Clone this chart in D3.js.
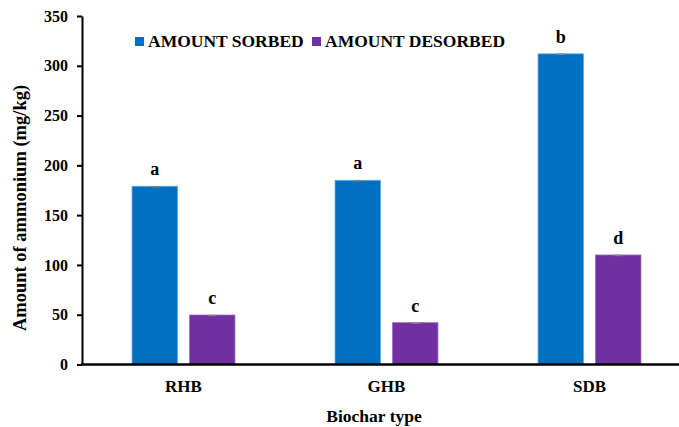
<!DOCTYPE html>
<html>
<head>
<meta charset="utf-8">
<script src="https://cdn.jsdelivr.net/npm/d3@7"></script>
<style>
  body { margin: 0; background: #fff; }
  text { font-family: "Liberation Serif", "Times New Roman", serif; font-weight: bold; }
</style>
</head>
<body>
<script>
const categories = ["RHB", "GHB", "SDB"];
const seriesNames = ["AMOUNT SORBED", "AMOUNT DESORBED"];
const sorbed = [179, 185, 312];
const desorbed = [49.7, 42, 110];
const sorbedLetters = ["a", "a", "b"];
const desorbedLetters = ["c", "c", "d"];
const yTicks = [0, 50, 100, 150, 200, 250, 300, 350];

const colors = ["#0070C0", "#7030A0"];
const edges = ["#5aa9e6", "#9b6cc4"];

const width = 679, height = 427;
const plotLeft = 82, plotRight = 691, plotTop = 16, plotBottom = 364.5;

const svg = d3.select("body").append("svg")
  .attr("width", width)
  .attr("height", height);

const rows = categories.map((c, i) => ({
  cat: c,
  vals: [
    { s: 0, v: sorbed[i], l: sorbedLetters[i] },
    { s: 1, v: desorbed[i], l: desorbedLetters[i] }
  ]
}));

const x0 = d3.scaleBand().domain(categories).range([plotLeft, plotRight])
  .paddingInner(0.493).paddingOuter(0.2465);
const x1 = d3.scaleBand().domain([0, 1]).range([0, x0.bandwidth()])
  .paddingInner(0.21);
const y = d3.scaleLinear().domain([0, 350]).range([plotBottom, plotTop]);

// bars
const g = svg.selectAll(".grp").data(rows).enter().append("g")
  .attr("transform", d => `translate(${x0(d.cat)},0)`);

g.selectAll("rect").data(d => d.vals).enter().append("rect")
  .attr("x", d => x1(d.s))
  .attr("y", d => y(d.v))
  .attr("width", x1.bandwidth())
  .attr("height", d => y(0) - y(d.v))
  .attr("fill", d => colors[d.s])
  .attr("stroke", d => edges[d.s])
  .attr("stroke-width", 0.8);

// tiny error caps
g.selectAll("line.err").data(d => d.vals).enter().append("line")
  .attr("class", "err")
  .attr("x1", d => x1(d.s) + x1.bandwidth() / 2 - 4)
  .attr("x2", d => x1(d.s) + x1.bandwidth() / 2 + 4)
  .attr("y1", d => y(d.v) + 0.5)
  .attr("y2", d => y(d.v) + 0.5)
  .attr("stroke", "#808080")
  .attr("stroke-width", 1.5);

// letters
g.selectAll("text.let").data(d => d.vals).enter().append("text")
  .attr("class", "let")
  .attr("x", d => x1(d.s) + x1.bandwidth() / 2)
  .attr("y", d => y(d.v) - 11)
  .attr("text-anchor", "middle")
  .attr("font-size", "18px")
  .attr("fill", "#000")
  .text(d => d.l);

// y axis
const yAxis = svg.append("g")
  .attr("transform", `translate(${plotLeft},0)`)
  .call(d3.axisLeft(y).tickValues(yTicks).tickSize(5).tickPadding(9).tickSizeOuter(0));
yAxis.select(".domain").attr("stroke", "#000").attr("stroke-width", 2);
yAxis.selectAll(".tick line").attr("stroke", "#000").attr("stroke-width", 2);
yAxis.selectAll(".tick text")
  .attr("font-size", "16px")
  .attr("font-family", "Liberation Serif, serif")
  .attr("font-weight", "bold")
  .attr("fill", "#000");

// x axis
const xAxis = svg.append("g")
  .attr("transform", `translate(0,${plotBottom})`)
  .call(d3.axisBottom(x0).tickSize(0).tickPadding(15).tickSizeOuter(0));
xAxis.select(".domain").attr("stroke", "#000").attr("stroke-width", 2.5)
  .attr("d", `M${plotLeft - 1},0H${width}`);
xAxis.selectAll(".tick text")
  .attr("font-size", "17px")
  .attr("font-family", "Liberation Serif, serif")
  .attr("font-weight", "bold")
  .attr("fill", "#000");

// axis titles
svg.append("text")
  .attr("transform", "translate(26,208) rotate(-90)")
  .attr("text-anchor", "middle")
  .attr("font-size", "18.5px")
  .text("Amount of ammonium (mg/kg)");

svg.append("text")
  .attr("x", 374).attr("y", 422)
  .attr("text-anchor", "middle")
  .attr("font-size", "17.5px")
  .text("Biochar type");

// legend
const legendX = [135, 312];
const lg = svg.selectAll(".leg").data(seriesNames).enter().append("g")
  .attr("transform", (d, i) => `translate(${legendX[i]},37)`);
lg.append("rect")
  .attr("width", 9).attr("height", 9)
  .attr("fill", (d, i) => colors[i]);
lg.append("text")
  .attr("x", 13).attr("y", 10)
  .attr("font-size", "17.5px")
  .attr("fill", "#000")
  .text(d => d);
</script>
</body>
</html>
